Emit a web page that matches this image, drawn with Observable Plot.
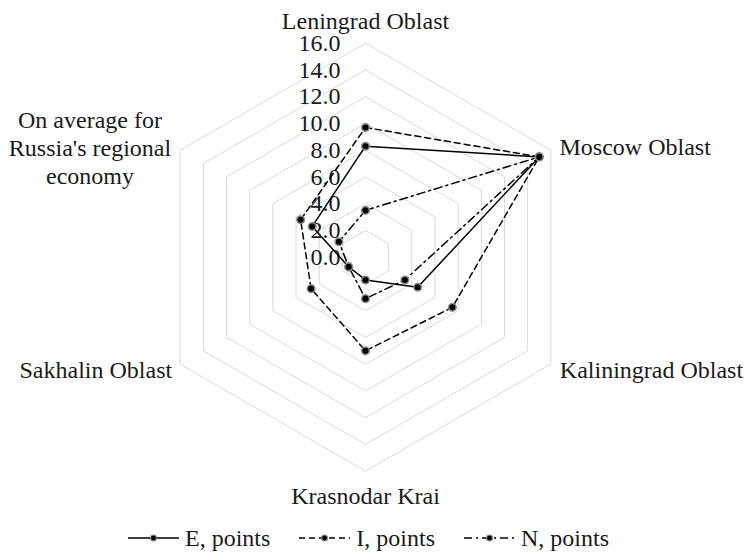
<!DOCTYPE html>
<html><head><meta charset="utf-8">
<script src="https://cdn.jsdelivr.net/npm/d3@7"></script>
<script src="https://cdn.jsdelivr.net/npm/@observablehq/plot@0.6"></script>
<style>
body{margin:0;background:#fff;font-family:"Liberation Serif","Times New Roman",serif;}
#legend{display:flex;align-items:center;height:28px;margin-left:128px;font-size:24px;line-height:28px;color:#1a1a1a;white-space:nowrap}
.item{display:flex;align-items:center;margin-right:29px}
.item svg{margin-right:6px;display:block}
</style></head><body>
<div id="chart"></div>
<div id="legend"></div>
<script>
// ---- data ----
const regions = ["Leningrad Oblast","Moscow Oblast","Kaliningrad Oblast","Krasnodar Krai","Sakhalin Oblast","On average for\nRussia's regional\neconomy"];
const seriesNames = ["E, points","I, points","N, points"];
const eValues = [8.3, 15.0, 4.5, 1.7, 1.45, 4.6];
const iValues = [9.7, 15.0, 7.5, 7.0, 4.7, 5.6];
const nValues = [3.5, 15.0, 3.4, 3.1, 1.45, 2.3];
const tickValues = [0, 2, 4, 6, 8, 10, 12, 14, 16];

// ---- build ----
const seriesValues = [eValues, iValues, nValues];
const dashes = [null, "6,4", "8,4,2,4"];
const n = regions.length;
const ang = i => (i * 2 * Math.PI) / n;
const px = (v, i) => v * Math.sin(ang(i));
const py = (v, i) => v * Math.cos(ang(i));

const grid = [];
tickValues.filter(t => t > 0).forEach(t => {
  for (let i = 0; i <= n; i++) grid.push({t, x: px(t, i % n), y: py(t, i % n)});
});

const seriesData = seriesNames.map((s, si) => {
  const pts = seriesValues[si].map((v, i) => ({series: s, region: regions[i], v, x: px(v, i), y: py(v, i)}));
  return {name: s, pts, closed: [...pts, pts[0]]};
});

const W = 744, H = 524, cx = 365, cy = 256.7, k = 13.375;
const maxT = d3.max(tickValues);
const labelOpts = [
  {anchor: "middle", dx: 0, dy: -23.2},
  {anchor: "start", dx: 8.7, dy: -4.2},
  {anchor: "start", dx: 9, dy: 4.6},
  {anchor: "middle", dx: 0, dy: 23.3},
  {anchor: "end", dx: -8, dy: 4.6},
  {anchor: "middle", dx: -90.2, dy: -3.4}
];
const ink = "#1a1a1a";

const marks = [
  Plot.line(grid, {x: "x", y: "y", z: "t", stroke: "#d9d9d9", strokeWidth: 1}),
  Plot.text(tickValues, {x: d => 0, y: d => d, text: d => d.toFixed(1), textAnchor: "end", dx: -25, fontSize: 24, fill: ink})
];
seriesData.forEach((s, si) => {
  marks.push(Plot.line(s.closed, {x: "x", y: "y", stroke: "#000", strokeWidth: 1.5, strokeDasharray: dashes[si], curve: "linear"}));
});
seriesData.forEach(s => {
  marks.push(Plot.dot(s.pts, {x: "x", y: "y", r: 3.8, fill: "#000", stroke: "#8c8c8c", strokeWidth: 1.5}));
});
regions.forEach((name, i) => {
  const o = labelOpts[i];
  marks.push(Plot.text([name], {x: d => px(maxT, i), y: d => py(maxT, i), text: d => d,
    textAnchor: o.anchor, dx: o.dx, dy: o.dy, fontSize: 24, lineHeight: 1.18, fill: ink}));
});

const chart = Plot.plot({
  width: W, height: H, margin: 0,
  x: {domain: [-cx / k, (W - cx) / k], axis: null},
  y: {domain: [-(H - cy) / k, cy / k], axis: null},
  style: {fontFamily: "'Liberation Serif','Times New Roman',serif", fontSize: "24px", background: "#fff", color: ink},
  marks
});
document.getElementById("chart").appendChild(chart);

// ---- legend ----
const legend = d3.select("#legend");
seriesNames.forEach((s, si) => {
  const item = legend.append("div").attr("class", "item");
  const svg = item.append("svg").attr("width", 51).attr("height", 20);
  svg.append("line").attr("x1", 0).attr("x2", 51).attr("y1", 10).attr("y2", 10)
    .attr("stroke", "#000").attr("stroke-width", 1.5)
    .attr("stroke-dasharray", dashes[si]);
  svg.append("circle").attr("cx", 25.5).attr("cy", 10).attr("r", 3)
    .attr("fill", "#000").attr("stroke", "#8c8c8c").attr("stroke-width", 1.2);
  item.append("span").text(s);
});
</script>
</body></html>
